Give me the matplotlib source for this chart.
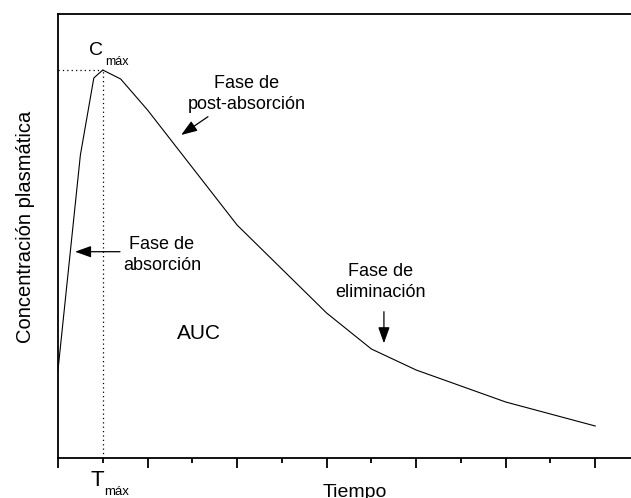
import matplotlib
matplotlib.use("Agg")
import matplotlib.pyplot as plt
import numpy as np

plt.rcParams['font.family'] = ['Liberation Sans', 'DejaVu Sans']

# Data (arbitrary units)
tiempo = [0, 0.5, 0.8, 1.0, 1.4, 2.0, 4.0, 6.0, 7.0, 8.0, 10.0, 12.0]
concentracion = [88, 303, 380, 388, 379, 348, 233, 145, 109, 88, 56, 32]

x_label = "Tiempo"
y_label = "Concentración plasmática"

W, H = 631, 498
fig = plt.figure(figsize=(W / 100, H / 100), dpi=100)
ax = fig.add_axes([58 / W, 40 / H, (640 - 58) / W, (458 - 14) / H])

ax.plot(tiempo, concentracion, color='black', lw=0.8)

imax = int(np.argmax(concentracion))
tmax, cmax = tiempo[imax], concentracion[imax]
ax.plot([0, tmax], [cmax, cmax], color='black', lw=0.9, ls=(0, (1, 2.5)))
ax.plot([tmax, tmax], [0, cmax], color='black', lw=0.9, ls=(0, (1, 2.5)))

ax.set_xlim(0, 13)
ax.set_ylim(0, 444)

for s in ['right']:
    ax.spines[s].set_visible(False)
for s in ['left', 'bottom', 'top']:
    ax.spines[s].set_linewidth(1.3)

ax.set_xticks(np.arange(0, 14, 2))
ax.set_xticks(np.arange(1, 14, 2), minor=True)
ax.set_yticks([])
ax.tick_params(axis='x', which='major', direction='out', length=7, width=1.3, labelbottom=False)
ax.tick_params(axis='x', which='minor', direction='out', length=3.6, width=1.3)

arrow = dict(arrowstyle='-|>,head_length=0.7,head_width=0.25', color='black', lw=0.9,
             shrinkA=0, shrinkB=0, mutation_scale=14)

# Annotations
ax.text(2.32, 203, "Fase de\nabsorción", ha='center', va='center', fontsize=13, linespacing=1.3)
ax.annotate("", xy=(0.38, 206.3), xytext=(1.385, 206.3), arrowprops=arrow)

ax.text(4.22, 364, "Fase de\npost-absorción", ha='center', va='center', fontsize=13, linespacing=1.3)
ax.annotate("", xy=(2.75, 323), xytext=(3.35, 341.3), arrowprops=arrow)

ax.text(7.21, 176, "Fase de\neliminación", ha='center', va='center', fontsize=13, linespacing=1.3)
ax.annotate("", xy=(7.28, 114.7), xytext=(7.28, 146.3), arrowprops=arrow)

ax.text(3.15, 124.5, "AUC", ha='center', va='center', fontsize=15)

ax.text(0.85, 407, "C", ha='center', va='center', fontsize=14)
ax.text(1.32, 396, "máx", ha='center', va='center', fontsize=9)

ax.text(0.87, -22, "T", ha='center', va='center', fontsize=16, clip_on=False)
ax.text(1.30, -34, "máx", ha='center', va='center', fontsize=9.5, clip_on=False)

fig.text(355 / W, (H - 496.6) / H, x_label, ha='center', va='baseline', fontsize=14)
fig.text(26 / W, (H - 227) / H, y_label, ha='center', va='center', rotation=90, fontsize=14.5)

fig.savefig("out.png", dpi=100)
